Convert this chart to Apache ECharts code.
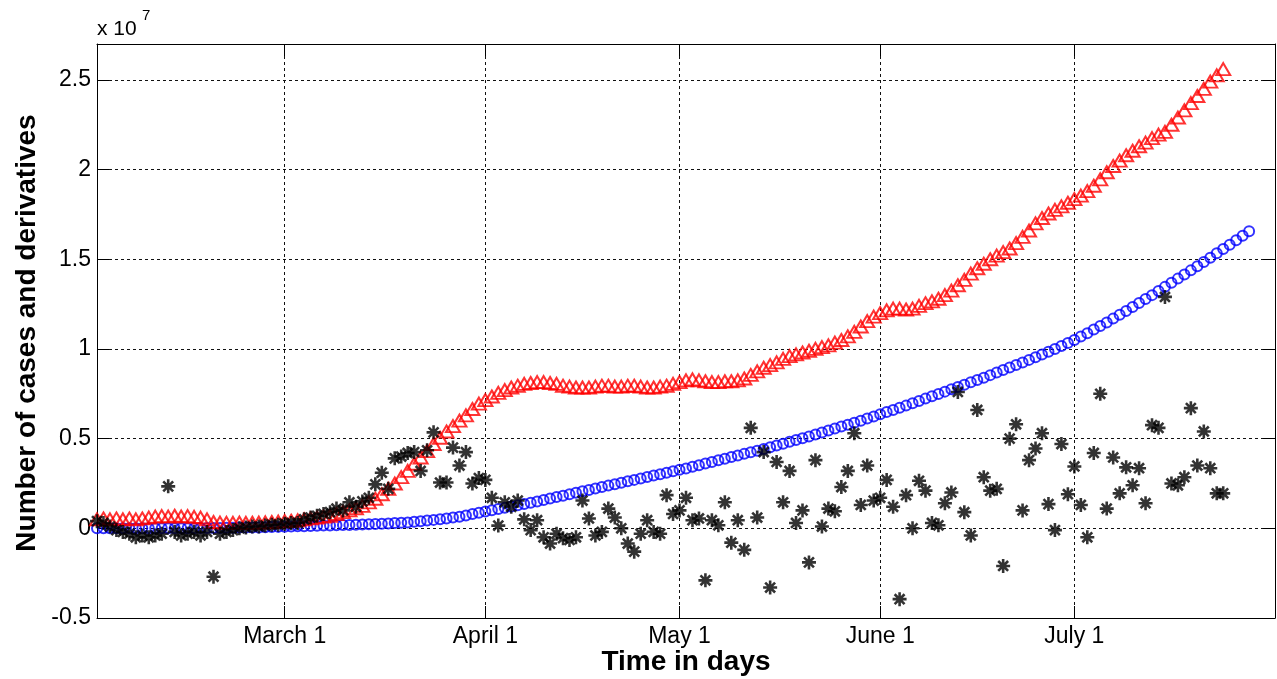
<!DOCTYPE html>
<html>
<head>
<meta charset="utf-8">
<script src="https://cdn.jsdelivr.net/npm/echarts@6/dist/echarts.min.js"></script>
<style>
html,body{margin:0;padding:0;background:#fff;}
#chart{width:1277px;height:679px;}
</style>
</head>
<body>
<div id="chart"></div>
<script>
// x axis: day index, day 0 = Feb 1 (2020), last day = Aug 1
const dayCount = 183;
const tickDays = [29, 60, 90, 121, 151];
const tickLabels = ['March 1', 'April 1', 'May 1', 'June 1', 'July 1'];
const yMin = -0.5, yMax = 2.7, yStep = 0.5;   // units of 10^7

// cases (blue circles), x10^7, day 0..178
const casesBlue = [
0,0,0,0,0,0,0,0,0.001,0.001,
0.001,0.001,0.001,0.001,0.001,0.001,0.002,0.002,0.002,0.002,
0.003,0.003,0.004,0.004,0.005,0.005,0.006,0.007,0.008,0.009,
0.010,0.011,0.012,0.013,0.014,0.015,0.016,0.017,0.018,0.019,
0.020,0.021,0.022,0.024,0.025,0.027,0.029,0.031,0.033,0.036,
0.039,0.043,0.047,0.051,0.055,0.060,0.065,0.072,0.080,0.087,
0.094,0.101,0.108,0.115,0.122,0.129,0.136,0.143,0.150,0.158,
0.166,0.174,0.182,0.190,0.198,0.206,0.214,0.222,0.230,0.238,
0.246,0.254,0.262,0.270,0.278,0.286,0.294,0.302,0.310,0.318,
0.326,0.334,0.343,0.352,0.361,0.370,0.379,0.388,0.397,0.406,
0.415,0.424,0.433,0.442,0.452,0.462,0.472,0.482,0.492,0.502,
0.512,0.523,0.534,0.545,0.556,0.567,0.578,0.589,0.600,0.612,
0.624,0.636,0.648,0.660,0.672,0.684,0.697,0.710,0.723,0.736,
0.749,0.762,0.775,0.788,0.801,0.814,0.827,0.840,0.854,0.868,
0.882,0.896,0.910,0.924,0.939,0.954,0.969,0.984,1.000,1.016,
1.033,1.050,1.069,1.088,1.108,1.128,1.148,1.169,1.190,1.212,
1.234,1.256,1.278,1.300,1.323,1.346,1.369,1.392,1.415,1.438,
1.461,1.485,1.509,1.533,1.557,1.581,1.606,1.631,1.656
];

// first derivative (red triangles), day 0..174
const derivRed = [
0.050,0.055,0.050,0.055,0.050,0.055,0.050,0.055,0.060,0.065,
0.068,0.065,0.070,0.066,0.068,0.064,0.060,0.050,0.035,0.032,
0.030,0.030,0.032,0.030,0.031,0.032,0.033,0.035,0.037,0.040,
0.042,0.045,0.050,0.055,0.060,0.065,0.070,0.080,0.090,0.100,
0.112,0.125,0.145,0.165,0.190,0.220,0.250,0.285,0.320,0.360,
0.395,0.430,0.470,0.505,0.540,0.570,0.600,0.630,0.665,0.695,
0.715,0.735,0.755,0.770,0.785,0.795,0.805,0.810,0.815,0.815,
0.810,0.805,0.795,0.790,0.785,0.785,0.785,0.790,0.795,0.795,
0.790,0.790,0.795,0.795,0.790,0.785,0.785,0.790,0.795,0.805,
0.815,0.825,0.830,0.825,0.820,0.815,0.815,0.820,0.820,0.825,
0.835,0.855,0.875,0.895,0.910,0.925,0.945,0.960,0.970,0.980,
0.990,1.000,1.010,1.020,1.035,1.050,1.070,1.095,1.125,1.155,
1.180,1.200,1.215,1.225,1.225,1.220,1.225,1.240,1.255,1.265,
1.280,1.300,1.325,1.355,1.385,1.420,1.450,1.475,1.500,1.520,
1.540,1.560,1.590,1.625,1.660,1.700,1.730,1.755,1.775,1.795,
1.815,1.835,1.855,1.880,1.910,1.945,1.985,2.020,2.050,2.080,
2.105,2.130,2.150,2.175,2.195,2.210,2.250,2.290,2.330,2.370,
2.410,2.450,2.490,2.525,2.560
];

// second derivative (black asterisks), day 0..174
const deriv2Black = [
0.04,0.03,0.01,-0.01,-0.02,-0.03,-0.05,-0.04,-0.05,-0.04,
-0.03,0.234,-0.02,-0.04,-0.03,-0.02,-0.04,-0.02,-0.27,-0.03,
-0.02,-0.01,0.0,0.005,0.01,0.01,0.015,0.02,0.02,0.025,
0.03,0.03,0.05,0.06,0.07,0.08,0.09,0.11,0.10,0.145,
0.12,0.15,0.17,0.245,0.31,0.22,0.39,0.40,0.42,0.425,
0.32,0.435,0.535,0.255,0.255,0.45,0.35,0.425,0.25,0.28,
0.27,0.17,0.015,0.145,0.12,0.155,0.05,-0.01,0.045,-0.05,
-0.085,-0.03,-0.055,-0.065,-0.05,0.155,0.055,-0.04,-0.02,0.11,
0.06,0.0,-0.085,-0.13,-0.03,0.045,-0.02,-0.03,0.185,0.08,
0.10,0.17,0.045,0.055,-0.29,0.045,0.017,0.145,-0.08,0.045,
-0.12,0.56,0.06,0.425,-0.33,0.37,0.145,0.32,0.03,0.10,
-0.19,0.38,0.01,0.11,0.095,0.23,0.32,0.53,0.13,0.35,
0.155,0.17,0.27,0.12,-0.395,0.185,0.0,0.265,0.21,0.03,
0.017,0.14,0.20,0.76,0.09,-0.04,0.66,0.285,0.21,0.22,
-0.21,0.50,0.58,0.10,0.38,0.445,0.53,0.135,-0.01,0.47,
0.19,0.345,0.13,-0.05,0.42,0.75,0.11,0.395,0.195,0.34,
0.24,0.335,0.14,0.575,0.56,1.29,0.25,0.24,0.285,0.67,
0.35,0.54,0.335,0.195,0.195
];

const FONT = '"Liberation Sans", Arial, Helvetica, sans-serif';
const days = [];
for (let i = 0; i < dayCount; i++) days.push(String(i));
const isTick = (idx) => tickDays.indexOf(idx) >= 0;
const toPairs = (arr) => arr.map((v, i) => [i, v]);

const ASTERISK = 'path://M0,5L10,5M5,0L5,10M1.46,1.46L8.54,8.54M8.54,1.46L1.46,8.54';

const axisLineStyle = { color: '#000', width: 1 };
const gridLineStyle = { color: '#111', width: 1, type: [3, 3] };

const chart = echarts.init(document.getElementById('chart'), null, { renderer: 'canvas' });
chart.setOption({
  animation: false,
  backgroundColor: '#fff',
  textStyle: { fontFamily: FONT },
  grid: { left: 97, right: 2, top: 44, bottom: 61, containLabel: false },
  xAxis: [
    {
      type: 'category', data: days, boundaryGap: false, position: 'bottom',
      axisLine: { show: true, onZero: false, lineStyle: axisLineStyle },
      axisTick: { show: true, inside: true, length: 12, interval: (i) => isTick(i), lineStyle: axisLineStyle },
      axisLabel: {
        show: true, interval: (i) => isTick(i), color: '#000', fontSize: 23, margin: 7,
        fontFamily: FONT,
        formatter: (v, i) => { const k = tickDays.indexOf(Number(v)); return k >= 0 ? tickLabels[k] : ''; }
      },
      splitLine: { show: true, interval: (i) => isTick(i), lineStyle: gridLineStyle }
    },
    {
      type: 'category', data: days, boundaryGap: false, position: 'top',
      axisLine: { show: true, onZero: false, lineStyle: axisLineStyle },
      axisTick: { show: true, inside: true, length: 12, interval: (i) => isTick(i), lineStyle: axisLineStyle },
      axisLabel: { show: false },
      splitLine: { show: false }
    }
  ],
  yAxis: [
    {
      type: 'value', min: yMin, max: yMax, interval: yStep, position: 'left',
      axisLine: { show: true, onZero: false, lineStyle: axisLineStyle },
      axisTick: { show: true, inside: true, length: 12, lineStyle: axisLineStyle },
      axisLabel: { show: true, color: '#000', fontSize: 23, margin: 6, fontFamily: FONT, showMaxLabel: false },
      splitLine: { show: true, lineStyle: gridLineStyle }
    },
    {
      type: 'value', min: yMin, max: yMax, interval: yStep, position: 'right',
      axisLine: { show: true, onZero: false, lineStyle: axisLineStyle },
      axisTick: { show: true, inside: true, length: 12, lineStyle: axisLineStyle },
      axisLabel: { show: false },
      splitLine: { show: false }
    }
  ],
  series: [
    {
      type: 'scatter', name: 'cases', data: toPairs(casesBlue),
      symbol: 'circle', symbolSize: 10, silent: true,
      itemStyle: { color: 'rgba(0,0,0,0)', borderColor: '#0000ff', borderWidth: 2 },
      emphasis: { disabled: true }
    },
    {
      type: 'scatter', name: 'first derivative', data: toPairs(derivRed),
      symbol: 'triangle', symbolSize: [14, 12], silent: true,
      itemStyle: { color: 'rgba(0,0,0,0)', borderColor: '#ff0000', borderWidth: 2 },
      emphasis: { disabled: true }
    },
    {
      type: 'scatter', name: 'second derivative', data: toPairs(deriv2Black),
      symbol: ASTERISK, symbolSize: 14, silent: true,
      itemStyle: { color: 'rgba(0,0,0,0)', borderColor: '#000', borderWidth: 2.6 },
      emphasis: { disabled: true }
    }
  ],
  graphic: [
    {
      type: 'text', left: 97, top: 19, silent: true,
      style: { text: 'x 10', font: '21px ' + FONT, fill: '#000' }
    },
    {
      type: 'text', left: 142, top: 8, silent: true,
      style: { text: '7', font: '15px ' + FONT, fill: '#000' }
    },
    {
      type: 'text', x: 686, y: 662, silent: true,
      style: { text: 'Time in days', font: 'bold 28px ' + FONT, fill: '#000',
               align: 'center', verticalAlign: 'middle', textAlign: 'center', textVerticalAlign: 'middle' }
    },
    {
      type: 'text', x: 27, y: 333, rotation: Math.PI / 2, silent: true,
      style: { text: 'Number of cases and derivatives', font: 'bold 28px ' + FONT, fill: '#000',
               align: 'center', verticalAlign: 'middle', textAlign: 'center', textVerticalAlign: 'middle' }
    }
  ]
});
</script>
</body>
</html>
